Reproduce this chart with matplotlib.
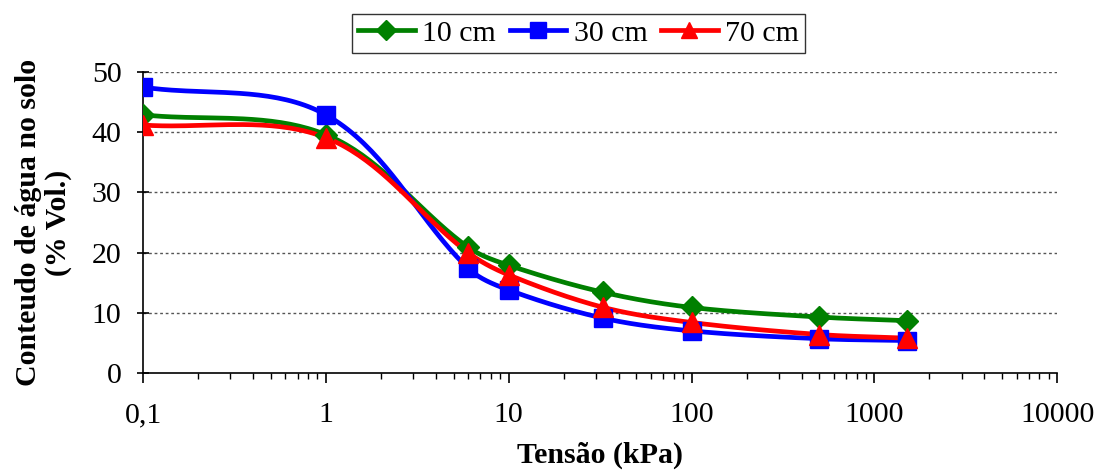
import numpy as np
import matplotlib
matplotlib.use("Agg")
import matplotlib.pyplot as plt
from matplotlib.ticker import FixedLocator, LogLocator, NullFormatter

plt.rcParams['font.family'] = ['Liberation Serif', 'DejaVu Serif']

# tensao (kPa)
tensao = [0.1, 1, 6, 10, 33, 100, 500, 1500]
# conteudo de agua (% vol.)
cm10 = [42.9, 39.6, 20.9, 17.9, 13.4, 10.9, 9.3, 8.7]
cm30 = [47.5, 42.9, 17.4, 13.8, 9.1, 7.0, 5.7, 5.4]
cm70 = [41.2, 39.1, 20.0, 16.3, 10.9, 8.4, 6.4, 5.8]
labels = ["10 cm", "30 cm", "70 cm"]
xtick_vals = [0.1, 1, 10, 100, 1000, 10000]
xtick_txt = ["0,1", "1", "10", "100", "1000", "10000"]


# curva suavizada (Bezier, tangente pelos vizinhos, comprimento limitado ao segmento)
def smooth(x, y, n=40, sx=183.0, sy=6.02):
    px0 = np.log10(np.array(x, dtype=float)) * sx
    py0 = np.array(y, dtype=float) * sy
    P = np.column_stack([px0, py0])
    m = len(P)
    tang = []
    for i in range(m):
        d = P[min(i + 1, m - 1)] - P[max(i - 1, 0)]
        tang.append(d / np.hypot(*d))
    out = []
    t = np.linspace(0, 1, n)[:, None]
    for i in range(m - 1):
        p1, p2 = P[i], P[i + 1]
        L = np.hypot(*(p2 - p1)) / 3
        c1 = p1 + tang[i] * L
        c2 = p2 - tang[i + 1] * L
        b = (1-t)**3*p1 + 3*(1-t)**2*t*c1 + 3*(1-t)*t**2*c2 + t**3*p2
        out.append(b)
    out = np.vstack(out)
    return 10**(out[:, 0] / sx), out[:, 1] / sy


fig = plt.figure(figsize=(11.02, 4.71), dpi=100)
ax = fig.add_axes([0.1298, 0.208, 0.8295, 0.639])

series = [(cm10, "#008000", "D", 11.5), (cm30, "#0000FF", "s", 13), (cm70, "#FF0000", "^", 14)]
handles = []
for (vals, col, mk, ms), lab in zip(series, labels):
    sx, sy = smooth(tensao, vals)
    ax.plot(sx, sy, color=col, lw=3.4, zorder=3)
    ax.plot(tensao, vals, ls="none", marker=mk, ms=ms, color=col, zorder=4)
    h, = ax.plot([], [], color=col, lw=3.4, marker=mk, ms=ms * 0.85, label=lab)
    handles.append(h)

ax.set_xscale("log")
ax.set_xlim(0.1, 10000)
ax.set_ylim(0, 50)
ax.set_yticks([0, 10, 20, 30, 40, 50])
ax.xaxis.set_major_locator(FixedLocator(xtick_vals))
ax.set_xticklabels(xtick_txt)
ax.xaxis.set_minor_locator(LogLocator(base=10, subs=np.arange(2, 10)))
ax.xaxis.set_minor_formatter(NullFormatter())

for y in [10, 20, 30, 40, 50]:
    ax.axhline(y, color="#555555", lw=1, ls=(0, (2, 2)), zorder=1)

for s in ["top", "right"]:
    ax.spines[s].set_visible(False)
ax.spines["left"].set_linewidth(1.2)
ax.spines["bottom"].set_linewidth(1.2)

ax.tick_params(axis="x", which="major", direction="out", length=7, width=1.2, labelsize=21.5, pad=14)
ax.tick_params(axis="x", which="minor", direction="out", length=4.5, width=1)
ax.tick_params(axis="y", which="major", direction="inout", length=9, width=1.2, labelsize=21.5, pad=11)

ax.set_xlabel("Tensão (kPa)", fontsize=21.5, fontweight="bold", labelpad=10)
ax.set_ylabel("Conteudo de água no solo\n(% Vol.)", fontsize=21.5, fontweight="bold", labelpad=14,
              linespacing=1.15)

leg = fig.legend(handles=handles, loc="center", bbox_to_anchor=(0.525, 0.929), ncol=3,
                 fontsize=21.5, frameon=True, fancybox=False, edgecolor="black",
                 handlelength=1.9, handletextpad=0.25, columnspacing=0.45,
                 borderpad=0.2, borderaxespad=0)
leg.get_frame().set_linewidth(1)

fig.savefig("out.png", dpi=100)
